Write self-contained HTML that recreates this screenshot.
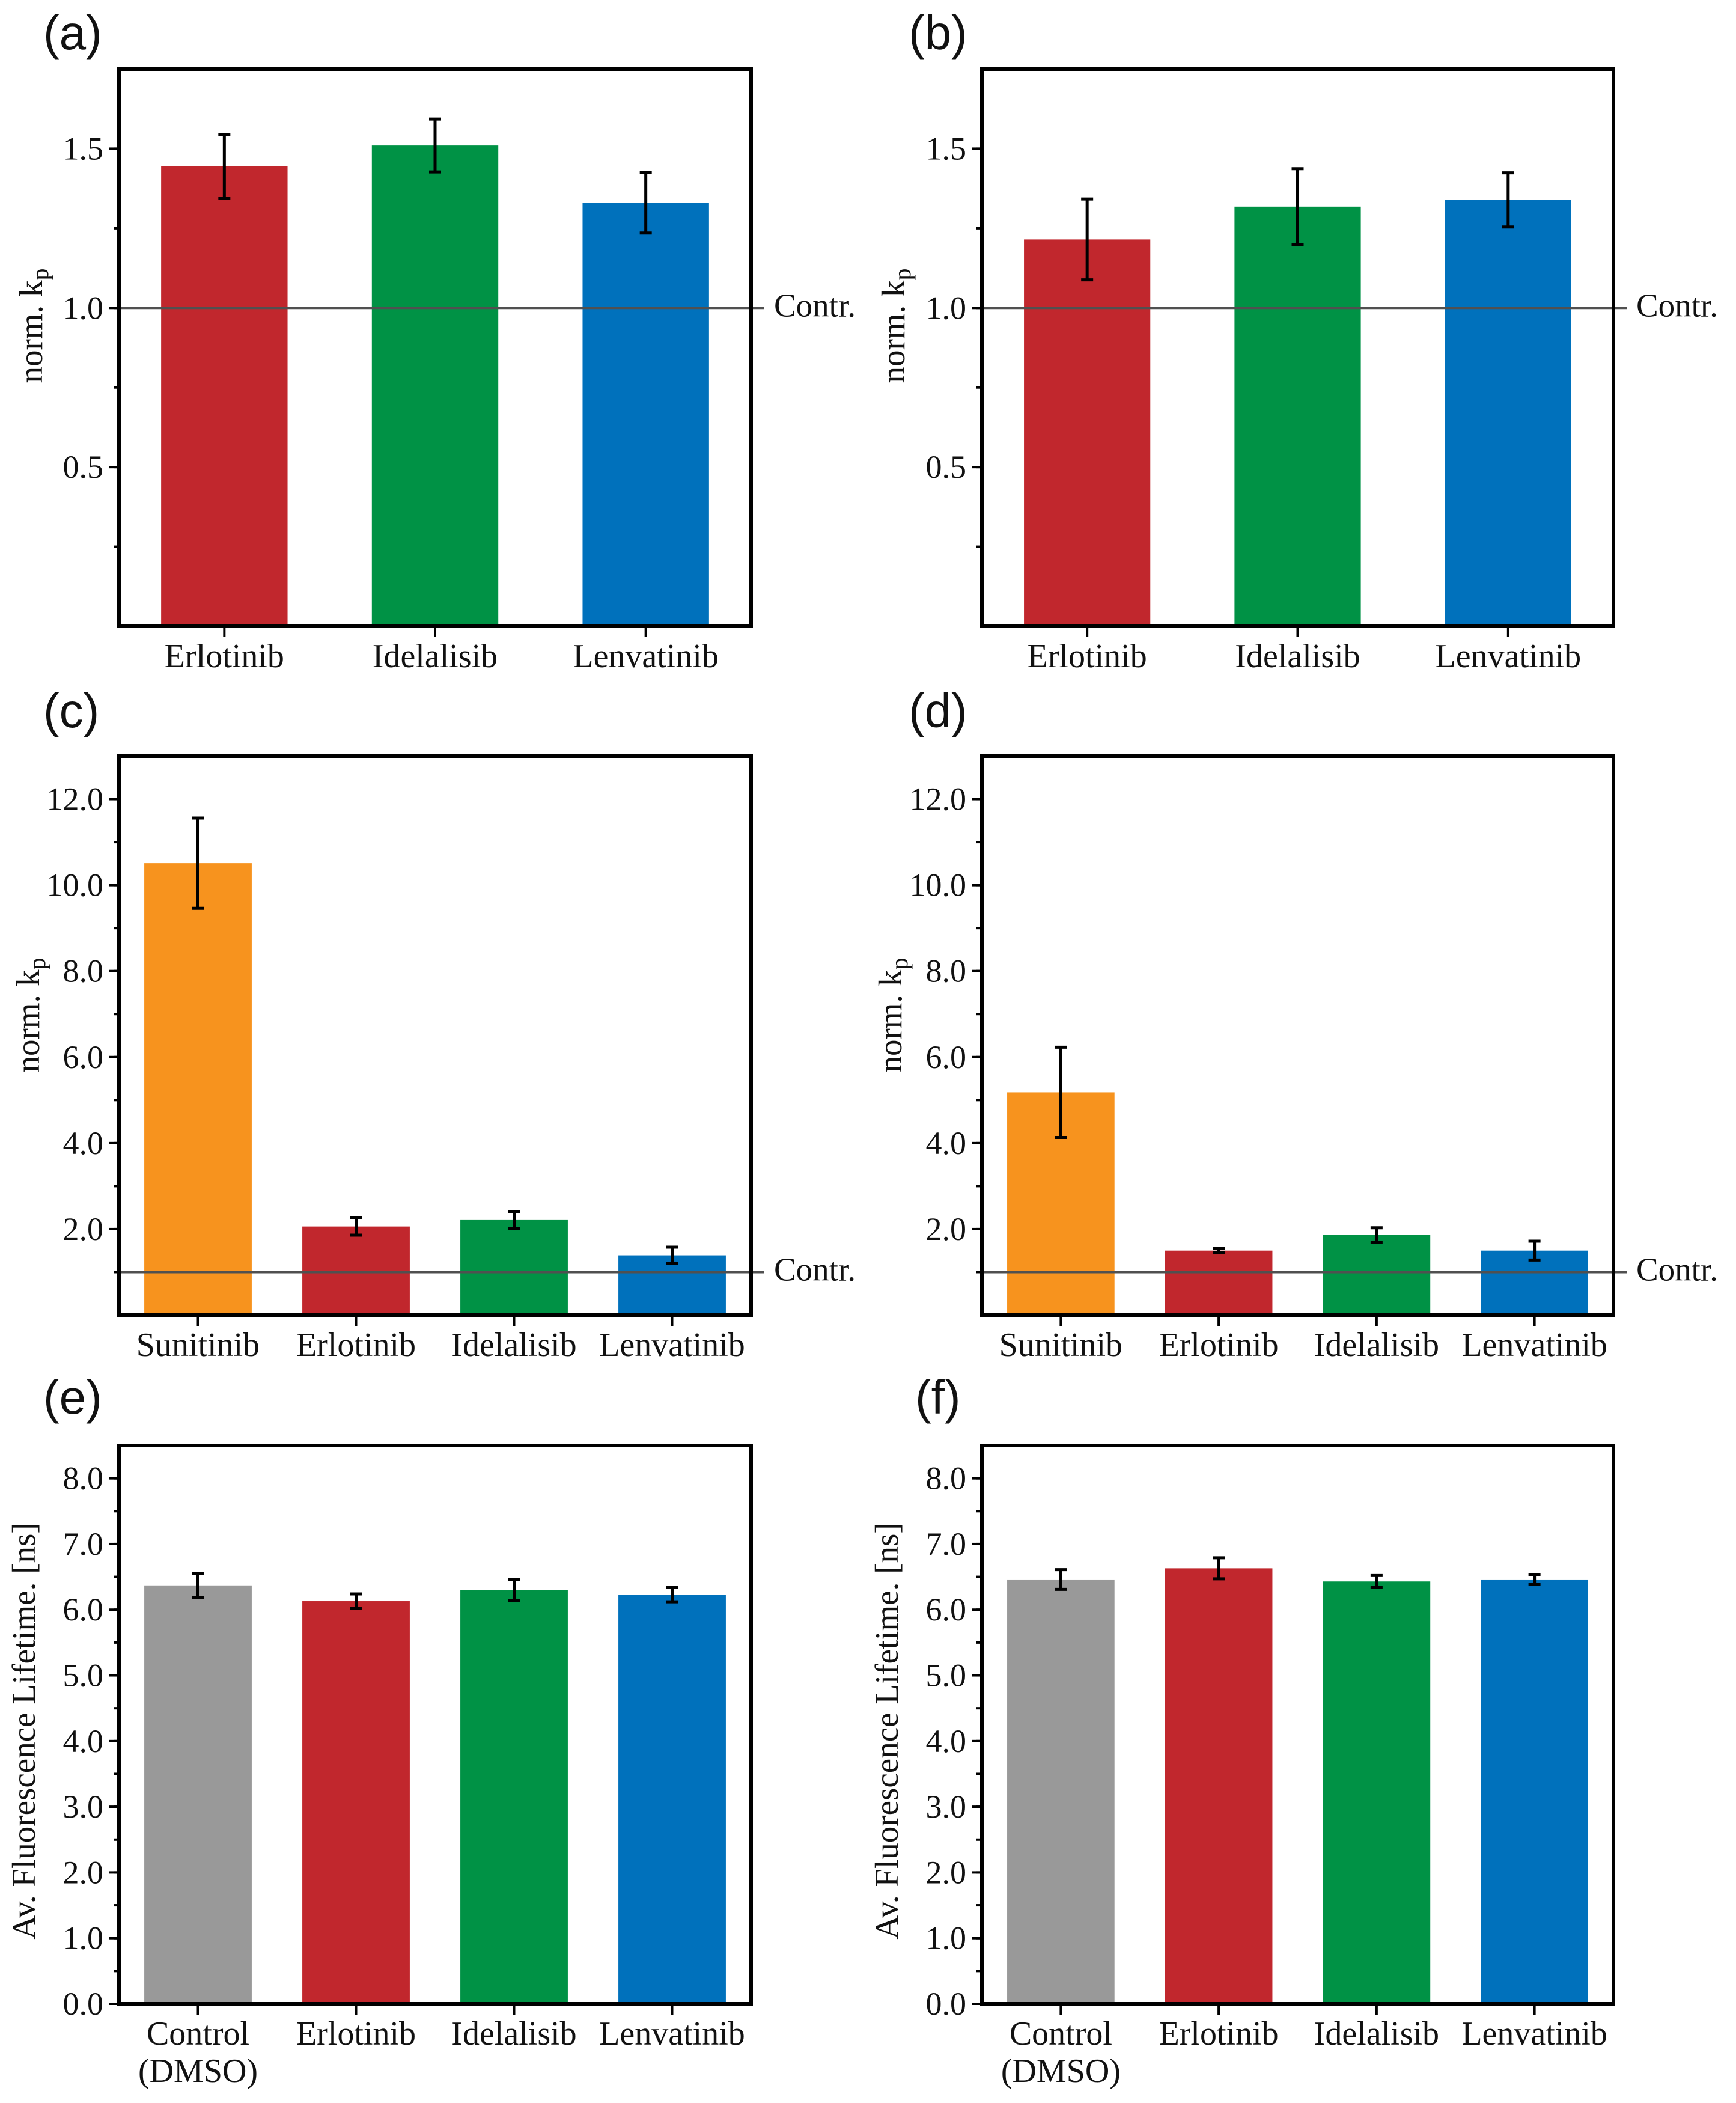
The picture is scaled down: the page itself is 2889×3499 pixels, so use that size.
<!DOCTYPE html>
<html><head><meta charset="utf-8">
<style>
html,body{margin:0;padding:0;background:#fff;}
svg{display:block;}
text{font-family:"Liberation Serif",serif;fill:#111;}
.lbl{font-family:"Liberation Sans",sans-serif;}
</style></head>
<body>
<svg id="fig" width="2889" height="3499" viewBox="0 0 2889 3499" xmlns="http://www.w3.org/2000/svg"></svg>
<script>
// ---- data ----
const catsA = ["Erlotinib","Idelalisib","Lenvatinib"];
const valsA = [1.445, 1.51, 1.33];
const errsA = [0.10, 0.083, 0.095];
const valsB = [1.215, 1.318, 1.339];
const errsB = [0.127, 0.119, 0.085];
const catsC = ["Sunitinib","Erlotinib","Idelalisib","Lenvatinib"];
const valsC = [10.51, 2.06, 2.21, 1.39];
const errsC = [1.05, 0.2, 0.19, 0.19];
const valsD = [5.18, 1.5, 1.86, 1.5];
const errsD = [1.05, 0.05, 0.17, 0.22];
const catsE = ["Control|(DMSO)","Erlotinib","Idelalisib","Lenvatinib"];
const valsE = [6.37, 6.13, 6.30, 6.23];
const errsE = [0.18, 0.11, 0.16, 0.11];
const valsF = [6.46, 6.63, 6.43, 6.46];
const errsF = [0.15, 0.16, 0.09, 0.07];
const ticksAB = ["0.5","1.0","1.5"];
const ticksCD = ["2.0","4.0","6.0","8.0","10.0","12.0"];
const ticksEF = ["0.0","1.0","2.0","3.0","4.0","5.0","6.0","7.0","8.0"];

const NS = "http://www.w3.org/2000/svg";
const svg = document.getElementById('fig');
function mk(tag, attrs, parent){
  const e = document.createElementNS(NS, tag);
  for (const k in attrs) e.setAttribute(k, attrs[k]);
  (parent||svg).appendChild(e);
  return e;
}
const COL = {Sunitinib:"#F7931E",Erlotinib:"#C1272D",Idelalisib:"#009245",Lenvatinib:"#0071BC",Control:"#999999"};

function panel(o){
  const g = mk('g',{});
  
  
  const L=o.x0, R=o.x1, T=o.y0, B=o.y1;
  const ys = v => B - (v - 0)/(o.ymax) * (B - T);
  const n = o.cats.length, step = (R-L)/n, bw = step*o.bwf;
  const pl = mk('text',{x:o.lx,y:o.ly,'font-size':80,'class':'lbl'},g);
  pl.textContent = '('+o.id+')';
  
  
  o.cats.forEach((c,i)=>{
    const cx = L + step*(i+0.5);
    const key = c.split('|')[0];
    const r = mk('rect',{x:cx-bw/2,y:ys(o.vals[i]),width:bw,height:B-ys(o.vals[i]),fill:COL[key]},g);
    
    
    const eg = mk('g',{stroke:'#000','stroke-width':5},g);
    
    
    const yt = ys(o.vals[i]+o.errs[i]), yb = ys(o.vals[i]-o.errs[i]);
    mk('line',{x1:cx,x2:cx,y1:yt,y2:yb},eg);
    mk('line',{x1:cx-10,x2:cx+10,y1:yt,y2:yt},eg);
    mk('line',{x1:cx-10,x2:cx+10,y1:yb,y2:yb},eg);
    mk('line',{x1:cx,x2:cx,y1:B,y2:B+18,stroke:'#000','stroke-width':4},g);
    const parts = c.split('|');
    parts.forEach((p,j)=>{
      const t = mk('text',{x:cx,y:B+68+j*62,'text-anchor':'middle','font-size':56},g);
      t.textContent = p;
      
      
    });
  });
  if (o.contr){
    const cl = mk('line',{x1:L,x2:R+22,y1:ys(1),y2:ys(1),stroke:'#505050','stroke-width':4},g);
    
    
    const ct = mk('text',{x:R+38,y:ys(1)+14,'font-size':55},g);
    ct.textContent = 'Contr.';
    
    
  }
  for (let v=o.minor; v<o.ymax; v+=o.minor){
    mk('line',{x1:L-9,x2:L,y1:ys(v),y2:ys(v),stroke:'#000','stroke-width':4},g);
  }
  o.ticks.forEach(tl=>{
    const v = parseFloat(tl);
    mk('line',{x1:L-16,x2:L,y1:ys(v),y2:ys(v),stroke:'#000','stroke-width':4},g);
    const t = mk('text',{x:L-26,y:ys(v)+18,'text-anchor':'end','font-size':54},g);
    t.textContent = tl;
    
    
  });
  const fr = mk('rect',{x:L,y:T,width:R-L,height:B-T,fill:'none',stroke:'#000','stroke-width':6},g);
  
  
  const yt = mk('text',{x:0,y:0,'text-anchor':'middle','font-size':55,transform:`translate(${o.tx},${o.ty}) rotate(-90)`},g);
  
  
  if (o.kp){
    yt.textContent = 'norm. k';
    const s = mk('tspan',{'font-size':40,dy:10},yt); s.textContent='p';
  } else yt.textContent = 'Av. Fluorescence Lifetime. [ns]';
}

panel({id:'a',x0:198,x1:1250,y0:115,y1:1042,ymax:1.75,cats:catsA,vals:valsA,errs:errsA,bwf:0.6,ticks:ticksAB,minor:0.25,contr:true,lx:72,ly:82,tx:70,ty:542,kp:true});
panel({id:'b',x0:1634,x1:2685,y0:115,y1:1042,ymax:1.75,cats:catsA,vals:valsB,errs:errsB,bwf:0.6,ticks:ticksAB,minor:0.25,contr:true,lx:1512,ly:82,tx:1505,ty:542,kp:true});
panel({id:'c',x0:198,x1:1250,y0:1258,y1:2188,ymax:13,cats:catsC,vals:valsC,errs:errsC,bwf:0.68,ticks:ticksCD,minor:1,contr:true,lx:72,ly:1210,tx:65,ty:1689,kp:true});
panel({id:'d',x0:1634,x1:2685,y0:1258,y1:2188,ymax:13,cats:catsC,vals:valsD,errs:errsD,bwf:0.68,ticks:ticksCD,minor:1,contr:true,lx:1512,ly:1210,tx:1500,ty:1689,kp:true});
panel({id:'e',x0:198,x1:1250,y0:2405,y1:3334,ymax:8.5,cats:catsE,vals:valsE,errs:errsE,bwf:0.68,ticks:ticksEF,minor:0.5,contr:false,lx:72,ly:2352,tx:58,ty:2880,kp:false});
panel({id:'f',x0:1634,x1:2685,y0:2405,y1:3334,ymax:8.5,cats:catsE,vals:valsF,errs:errsF,bwf:0.68,ticks:ticksEF,minor:0.5,contr:false,lx:1523,ly:2352,tx:1494,ty:2880,kp:false});
</script>
</body></html>
